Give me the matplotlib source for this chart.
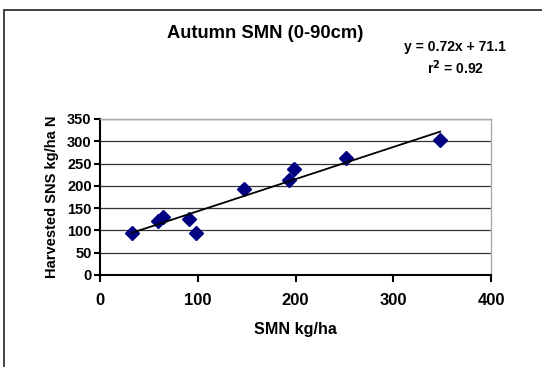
import matplotlib.pyplot as plt
import matplotlib.patches as mpatches
import numpy as np

# --- Data ---
smn = [33, 59, 64, 91, 98, 147, 193, 198, 252, 348]
sns_n = [95, 122, 131, 126, 95, 193, 213, 238, 262, 302]
slope = 0.72
intercept = 71.1
x_ticks = [0, 100, 200, 300, 400]
y_ticks = [0, 50, 100, 150, 200, 250, 300, 350]

plt.rcParams['font.family'] = ['Liberation Sans', 'DejaVu Sans']
plt.rcParams['font.weight'] = 'bold'

W, H = 542, 367
fig = plt.figure(figsize=(W / 100, H / 100), dpi=100)
ax = fig.add_axes([100 / W, 1 - 275 / H, (491 - 100) / W, (275 - 119) / H])

# outer chart frame (runs off the right and bottom)
frame = mpatches.Rectangle((4 / W, -0.1), 1.2, 1 - 10 / H + 0.1,
                           transform=fig.transFigure, fill=False,
                           edgecolor='#222222', linewidth=1.2)
fig.patches.append(frame)

# --- Scatter + trendline ---
ax.plot(smn, sns_n, linestyle='none', marker='D', markersize=7.5,
        color='#000080', zorder=3)
xl = np.array([min(smn), max(smn)])
ax.plot(xl, slope * xl + intercept, color='black', linewidth=1.3, zorder=4)

ax.set_xlim(0, 400)
ax.set_ylim(0, 350)
ax.set_xticks(x_ticks)
ax.set_yticks(y_ticks)
ax.yaxis.grid(True, color='#333333', linewidth=0.9)
ax.set_axisbelow(True)

for s in ['top', 'right']:
    ax.spines[s].set_color('#aaaaaa')
    ax.spines[s].set_linewidth(1.0)
for s in ['left', 'bottom']:
    ax.spines[s].set_linewidth(1.5)

ax.tick_params(axis='x', direction='out', length=5, width=1.5, labelsize=12, pad=8)
ax.tick_params(axis='y', direction='out', length=4, width=1.5, labelsize=10.5, pad=2)
for lab in ax.get_xticklabels() + ax.get_yticklabels():
    lab.set_fontweight('bold')

ax.set_xlabel('SMN kg/ha', fontsize=11.6, fontweight='bold', labelpad=10)
ax.set_ylabel('Harvested SNS kg/ha N', fontsize=10.5, fontweight='bold', labelpad=6)

fig.text(265 / W, 1 - 34 / H, 'Autumn SMN (0-90cm)', ha='center', va='center',
         fontsize=13.2, fontweight='bold')
fig.text(455 / W, 1 - 47 / H, 'y = 0.72x + 71.1', ha='center', va='center',
         fontsize=10, fontweight='bold')
fig.text(455 / W, 1 - 68 / H, r'r$^\mathbf{2}$ = 0.92', ha='center', va='center',
         fontsize=10, fontweight='bold')

fig.savefig('out.png', dpi=100)
